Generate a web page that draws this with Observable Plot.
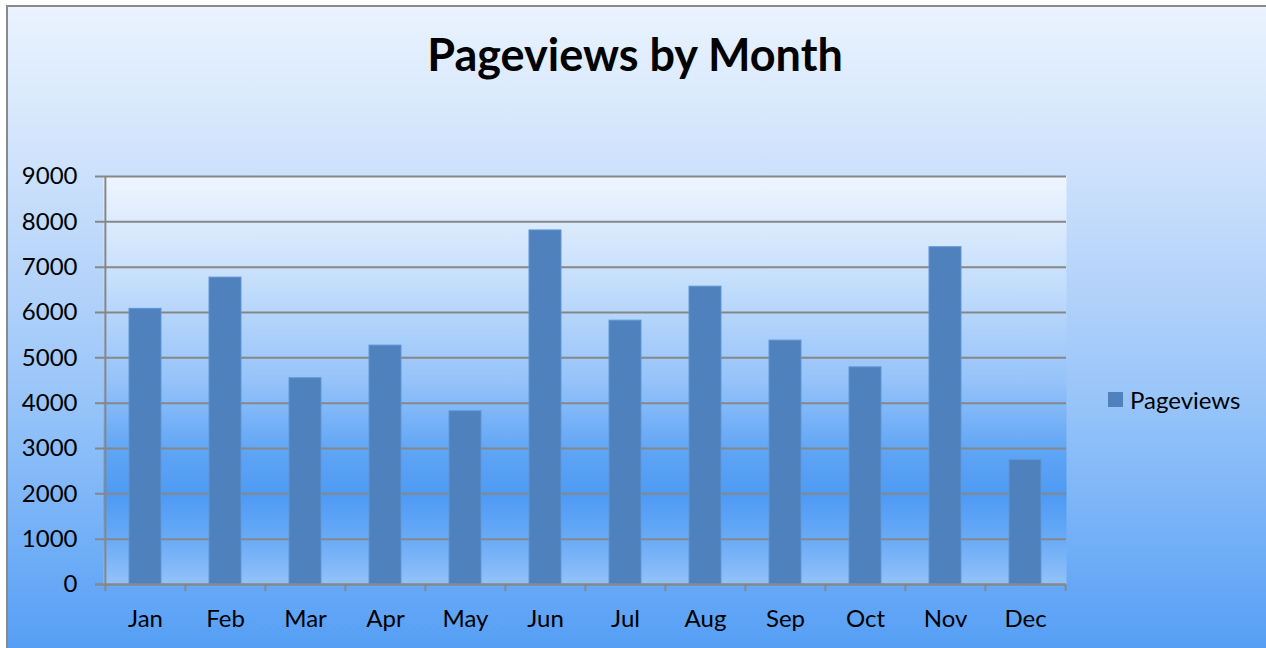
<!DOCTYPE html>
<html>
<head>
<meta charset="utf-8">
<script src="https://cdn.jsdelivr.net/npm/d3@7"></script>
<script src="https://cdn.jsdelivr.net/npm/@observablehq/plot@0.6"></script>
<style>
  html, body { margin: 0; padding: 0; background: #ffffff; }
  #chart { position: relative; width: 1266px; height: 648px; overflow: hidden; font-family: Lato, "Open Sans", sans-serif; }
  #bg { position: absolute; left: 6px; top: 5px; width: 1280px; height: 660px;
        border-top: 2px solid #8a8a8a; border-left: 2px solid #8a8a8a;
        background: linear-gradient(to bottom, #eaf3fe 0%, #d3e5fc 20%, #b4d3fa 42%, #97c4f9 60%, #74b0f7 80%, #519cf5 100%); }
  #title { position: absolute; left: 0; width: 1270px; top: 27px; text-align: center;
           font-weight: 700; font-size: 45px; color: #000; }
  #plot { position: absolute; left: 0; top: 0; }
  #legend { position: absolute; left: 1108px; top: 385px; display: flex; align-items: center; font-size: 24px; color: #000; }
  #legend .sw { width: 15px; height: 15px; background: #4f81bd; margin-right: 7px; }
</style>
</head>
<body>
<div id="chart">
  <div id="bg"></div>
  <div id="title"></div>
  <div id="plot"></div>
  <div id="legend"><div class="sw"></div><span id="legendLabel"></span></div>
</div>
<script>
const chartTitle = "Pageviews by Month";
const seriesName = "Pageviews";
const months = ["Jan", "Feb", "Mar", "Apr", "May", "Jun", "Jul", "Aug", "Sep", "Oct", "Nov", "Dec"];
const pageviews = [6080, 6770, 4550, 5270, 3820, 7810, 5820, 6570, 5380, 4790, 7440, 2745];
const yTicks = [0, 1000, 2000, 3000, 4000, 5000, 6000, 7000, 8000, 9000];

const data = months.map((m, i) => ({month: m, value: pageviews[i]}));

document.getElementById("title").textContent = chartTitle;
document.getElementById("legendLabel").textContent = seriesName;

const W = 1266, H = 648, mL = 103, mR = 200, mT = 176, mB = 64;
const step = (W - mL - mR) / months.length;
const gridColor = "#878787";

const svg = Plot.plot({
  width: W, height: H,
  marginLeft: mL, marginRight: mR, marginTop: mT, marginBottom: mB,
  style: {background: "transparent", fontFamily: "Lato, 'Open Sans', sans-serif", fontSize: "24px", color: "#000", overflow: "visible"},
  x: {type: "band", domain: months, paddingInner: 0.6, paddingOuter: 0.3, label: null},
  y: {domain: [0, 9000], ticks: yTicks, label: null},
  marks: [
    Plot.frame({fill: "url(#plotGrad)", stroke: null}),
    Plot.gridY(yTicks, {stroke: gridColor, strokeOpacity: 1, strokeWidth: 2, insetLeft: -8}),
    Plot.ruleX(months.slice(0, 1), {x: d => d, y1: 0, y2: 9000, dx: -step / 2, stroke: gridColor, strokeWidth: 2}),
    Plot.barY(data, {x: "month", y: "value", fill: "#4f81bd", stroke: "#6196d4", strokeWidth: 1}),
    Plot.ruleY([0], {stroke: gridColor, strokeWidth: 2, insetLeft: -8}),
    Plot.ruleX(months, {x: d => d, y1: 0, y2: 0, insetBottom: -7, dx: -step / 2, stroke: gridColor, strokeWidth: 2}),
    Plot.ruleX(months.slice(-1), {x: d => d, y1: 0, y2: 0, insetBottom: -7, dx: step / 2, stroke: gridColor, strokeWidth: 2}),
    Plot.axisY(yTicks, {tickSize: 0, tickPadding: 26, tickFormat: d => String(d), fill: "#000", fontSize: 24, label: null}),
    Plot.axisX({tickSize: 0, tickPadding: 25, fill: "#000", fontSize: 24, label: null})
  ]
});

const defs = d3.select(svg).insert("defs", ":first-child");
const grad = defs.append("linearGradient").attr("id", "plotGrad")
  .attr("x1", 0).attr("y1", 0).attr("x2", 0).attr("y2", 1);
[[0, "#eef5fe"], [0.25, "#c6dffc"], [0.5, "#96c3f9"], [0.68, "#5ea4f5"], [0.78, "#4e9af4"], [0.88, "#66a9f6"], [1, "#93c2f9"]]
  .forEach(([o, c]) => grad.append("stop").attr("offset", o).attr("stop-color", c));

document.getElementById("plot").appendChild(svg);
</script>
</body>
</html>
